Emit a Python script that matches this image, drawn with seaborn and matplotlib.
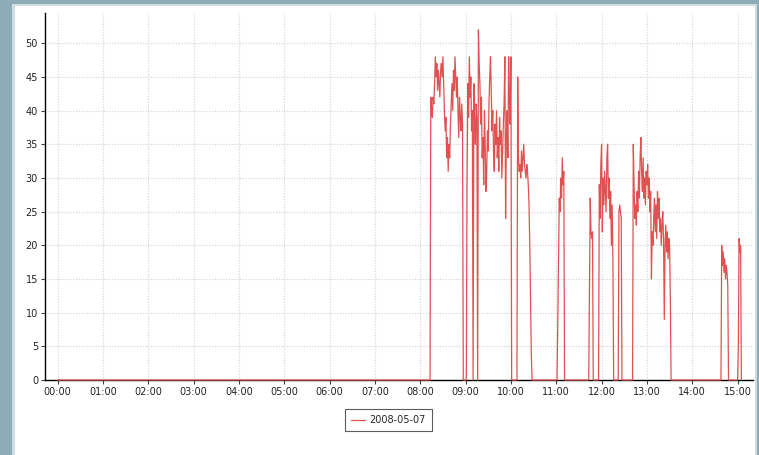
import numpy as np
import pandas as pd
import seaborn as sns
import matplotlib.pyplot as plt
from matplotlib.patches import Rectangle

# Series name and axis labels.
day = '2008-05-07'
tick_hours = [0, 1, 2, 3, 4, 5, 6, 7, 8, 9, 10, 11, 12, 13, 14, 15]
tick_labels = ['00:00', '01:00', '02:00', '03:00', '04:00', '05:00', '06:00', '07:00',
               '08:00', '09:00', '10:00', '11:00', '12:00', '13:00', '14:00', '15:00']
y_ticks = [0, 5, 10, 15, 20, 25, 30, 35, 40, 45, 50]

# One value per minute; the series is 0 outside these bursts.
last_minute = 905
burst_0814 = [42, 40, 39, 42, 41, 44, 48, 45, 47, 43, 46, 44, 42, 46, 47, 45, 48, 44, 40, 37,
              39, 33, 36, 31, 35, 33, 38, 41, 44, 40, 46, 43, 48, 45, 42, 45, 40, 36, 42, 39,
              37, 41, 38]
burst_0902 = [30, 44, 39, 48, 42, 45, 37, 40, 0, 44, 38, 35, 41, 39, 0, 52, 47, 44, 38, 42,
              33, 36, 29, 40, 35, 28, 31, 37, 34, 41, 45, 48, 43, 37, 40, 34, 31, 38, 35, 40,
              33, 36, 31, 39, 35, 37, 30, 34, 38, 41, 48, 24, 36, 40, 33, 48, 42, 38, 48]
burst_1009 = [45, 33, 31, 32, 30, 34, 31, 33, 35, 32, 31, 30, 32, 31, 29, 26, 20, 12, 4]
burst_1102 = [8, 18, 27, 25, 30, 27, 33, 29, 31]
burst_1144 = [14, 27, 22, 21, 22]
burst_1157 = [29, 24, 32, 35, 22, 30, 26, 31, 28, 25, 33, 35, 27, 30, 24, 28, 20, 26, 18]
burst_1223 = [25, 26, 25, 24]
burst_1242 = [35, 29, 24, 26, 23, 28, 25, 31, 27, 33, 36, 31, 28, 33, 27, 30, 26, 31, 29, 32,
              27, 30, 25, 28, 15, 22, 20, 24, 27, 22, 26, 21, 28, 24, 27, 22, 24, 20, 23, 25,
              21, 9, 20, 23, 19, 22, 18, 21, 20, 12]
burst_1439 = [20, 17, 19, 16, 18, 15, 17, 16, 14]
burst_1501 = [5, 21, 19, 20]
burst_starts = [494, 542, 609, 662, 704, 717, 743, 762, 879, 901]
bursts = [burst_0814, burst_0902, burst_1009, burst_1102, burst_1144, burst_1157,
          burst_1223, burst_1242, burst_1439, burst_1501]

values = np.zeros(last_minute + 1)
for start, burst in zip(burst_starts, bursts):
    values[start:start + len(burst)] = burst
df = pd.DataFrame({'hour': np.arange(last_minute + 1) / 60, 'value': values})

W, H = 759, 455
sns.set_style('white')
plt.rcParams['font.family'] = ['DejaVu Sans']

fig = plt.figure(figsize=(W / 100, H / 100), dpi=100)
fig.patch.set_facecolor('#8eabb8')
# Light edge and white panel inside the blue-grey frame.
fig.patches.append(Rectangle((12 / W, 0), (757 - 12) / W, 1 - 4 / H, transform=fig.transFigure,
                             facecolor='#cfdde3', edgecolor='none', zorder=-2))
fig.patches.append(Rectangle((15 / W, 0), (755 - 15) / W, 1 - 6 / H, transform=fig.transFigure,
                             facecolor='white', edgecolor='none', zorder=-1))

ax = fig.add_axes([45 / W, 1 - 380 / H, 708 / W, 367 / H])
sns.lineplot(data=df, x='hour', y='value', color='#e05252', linewidth=0.9,
             label=day, ax=ax, zorder=3)
for line in ax.lines:
    line.set_clip_on(False)

ax.set_xlim(-0.276, 15.34)
ax.set_ylim(0, 54.5)
ax.set_xticks(tick_hours)
ax.set_xticklabels(tick_labels)
ax.set_yticks(y_ticks)
ax.set(xlabel='', ylabel='')
ax.grid(True, color='#d0d0d0', linestyle=(0, (1, 1.5)), linewidth=0.8)
ax.tick_params(axis='both', direction='out', length=3, width=0.8, color='#444444',
               labelsize=7, labelcolor='#222222', pad=2, bottom=True, left=True)
for side in ['top', 'right']:
    ax.spines[side].set_visible(False)
for side in ['left', 'bottom']:
    ax.spines[side].set_color('black')
    ax.spines[side].set_linewidth(1.0)

handles, labels = ax.get_legend_handles_labels()
ax.get_legend().remove()
leg = fig.legend(handles, labels, loc='center', bbox_to_anchor=(388.5 / W, 1 - 420 / H),
                 fontsize=7, frameon=True, fancybox=False, handlelength=1.4,
                 handletextpad=0.5, borderpad=0.6, borderaxespad=0)
leg.get_frame().set_edgecolor('#333333')
leg.get_frame().set_linewidth(0.8)

plt.savefig('out.png', dpi=100)
